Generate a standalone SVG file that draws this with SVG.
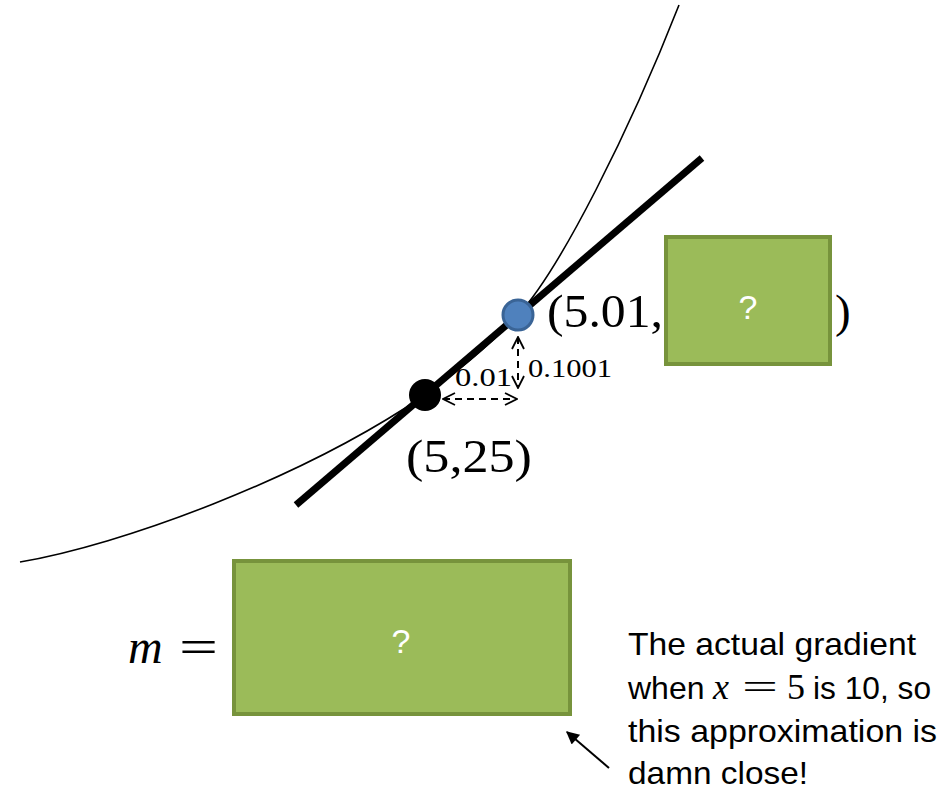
<svg xmlns="http://www.w3.org/2000/svg" width="951" height="793" viewBox="0 0 951 793">
<style>
.box{fill:#9bbb59;stroke:#77933c;stroke-width:4}
.q{font-family:"Liberation Sans",Arial,sans-serif;font-size:34px;fill:#fff;text-anchor:middle}
.m{font-family:"Liberation Serif","DejaVu Serif",serif;fill:#000}
.t{font-family:"Liberation Sans",Arial,sans-serif;font-size:32px;fill:#000}
.dash{stroke:#000;stroke-width:2;stroke-dasharray:7,5;fill:none}
</style>
<defs>
<marker id="open" viewBox="0 0 14 14" refX="13" refY="7" markerWidth="14" markerHeight="14" markerUnits="userSpaceOnUse" orient="auto-start-reverse">
<path d="M1,1 L13,7 L1,13" fill="none" stroke="#000" stroke-width="1.8"/>
</marker>
<marker id="solid" viewBox="0 0 10 10" refX="9" refY="5" markerWidth="16" markerHeight="13" markerUnits="userSpaceOnUse" orient="auto">
<path d="M0,0 L10,5 L0,10 Z" fill="#000"/>
</marker>
</defs>
<g id="connectors">
<path id="curve" d="M20,562 C120,545 300,480 425,395 C460,370 495,340 518,315 C560,270 630,130 679,5" fill="none" stroke="#000" stroke-width="1.6"/>
<line id="secant" x1="296" y1="505" x2="702" y2="158" stroke="#000" stroke-width="7"/>
<line class="dash" x1="443" y1="399" x2="517" y2="399" marker-start="url(#open)" marker-end="url(#open)"/>
<line class="dash" x1="518" y1="337" x2="518" y2="388" marker-start="url(#open)" marker-end="url(#open)"/>
<line x1="609" y1="768" x2="567" y2="732" stroke="#000" stroke-width="2" marker-end="url(#solid)"/>
</g>
<g id="point-black"><circle cx="425" cy="395" r="16" fill="#000"/></g>
<g id="point-blue"><circle cx="518" cy="315" r="15" fill="#4f81bd" stroke="#3a6496" stroke-width="3"/></g>
<g id="labels">
<text class="m" x="455" y="386" font-size="25" textLength="57" lengthAdjust="spacingAndGlyphs">0.01</text>
<text class="m" x="528" y="377" font-size="25" textLength="84" lengthAdjust="spacingAndGlyphs">0.1001</text>
<text class="m" x="547" y="327" font-size="47" textLength="116" lengthAdjust="spacingAndGlyphs">(5.01,</text>
<text class="m" x="835" y="327" font-size="47">)</text>
<text class="m" x="406" y="472" font-size="47" textLength="126" lengthAdjust="spacingAndGlyphs">(5,25)</text>
<text class="m" x="128" y="663" font-size="48" font-style="italic">m</text>
<text class="m" x="179" y="663" font-size="48" textLength="39" lengthAdjust="spacingAndGlyphs">=</text>
</g>
<g id="box-y"><rect class="box" x="666" y="237" width="164" height="127"/><text class="q" x="748" y="319">?</text></g>
<g id="box-m"><rect class="box" x="234" y="561" width="336" height="153"/><text class="q" x="401" y="653">?</text></g>
<g id="note">
<text class="t" x="628" y="655" textLength="288" lengthAdjust="spacingAndGlyphs">The actual gradient</text>
<text class="t" x="628" y="699">when</text>
<text class="m" x="713" y="699" font-size="36" font-style="italic">x</text>
<text class="m" x="742" y="699" font-size="36" textLength="36" lengthAdjust="spacingAndGlyphs">=</text>
<text class="m" x="787" y="699" font-size="36">5</text>
<text class="t" x="813" y="699" textLength="118" lengthAdjust="spacingAndGlyphs">is 10, so</text>
<text class="t" x="628" y="742" textLength="309" lengthAdjust="spacingAndGlyphs">this approximation is</text>
<text class="t" x="628" y="784" textLength="180" lengthAdjust="spacingAndGlyphs">damn close!</text>
</g>
</svg>
